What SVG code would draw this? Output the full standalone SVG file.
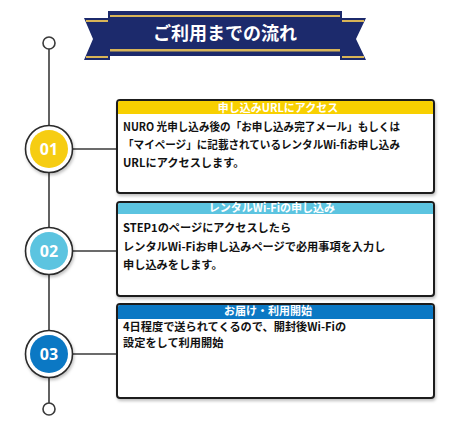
<svg xmlns="http://www.w3.org/2000/svg" width="450" height="430" viewBox="0 0 450 430">
<defs>
<style>
.line{stroke:#3a3a3a;stroke-width:1.6;fill:none}
.ring{fill:#fff;stroke:#2a2a2a;stroke-width:1.6}
.dot{fill:#fff;stroke:#3a3a3a;stroke-width:1.6}
.num{font-family:"Open Sans","Noto Sans",sans-serif;font-weight:700;font-size:16px;fill:#fff;text-anchor:middle}
.box{fill:#fff;stroke:#1e1e1e;stroke-width:2}
.hd{font-family:"Noto Sans CJK JP",sans-serif;font-weight:700;font-size:11px;fill:#fff;text-anchor:middle}
.bd{font-family:"Noto Sans CJK JP",sans-serif;font-weight:700;font-size:11.2px;fill:#111}
.title{font-family:"Noto Sans CJK JP",sans-serif;font-weight:700;font-size:18px;fill:#fff;text-anchor:middle}
.navy{fill:#1c2a6c}
.navyd{fill:#121c4e}
.gold{fill:#d8b457}
</style>
<filter id="sh" x="-30%" y="-30%" width="160%" height="160%">
<feDropShadow dx="1" dy="2" stdDeviation="1.5" flood-color="#000" flood-opacity="0.25"/>
</filter>
</defs>
<g id="banner">
<polygon class="navyd" points="108,54 98,60 108,60"/>
<polygon class="navyd" points="342,54 352,60 342,60"/>
<polygon class="navy" points="84,18 110,18 110,60 84,60 93,39"/>
<rect class="gold" x="86" y="20" width="22" height="2"/>
<rect class="gold" x="86" y="56" width="22" height="2"/>
<polygon class="navy" points="340,18 366,18 356,39 366,60 340,60"/>
<rect class="gold" x="342" y="20" width="22" height="2"/>
<rect class="gold" x="342" y="56" width="22" height="2"/>
<rect class="navy" x="108" y="11" width="234" height="45"/>
<rect class="gold" x="110" y="15" width="230" height="2"/>
<rect class="gold" x="110" y="49" width="230" height="2.5"/>
<text class="title" x="225" y="40">ご利用までの流れ</text>
</g>
<g id="connectors">
<line class="line" x1="49" y1="49" x2="49" y2="403"/>
<line class="line" x1="73" y1="149" x2="117" y2="149"/>
<line class="line" x1="73" y1="251" x2="117" y2="251"/>
<line class="line" x1="73" y1="354" x2="117" y2="354"/>
</g>
<g id="start">
<circle class="dot" cx="49" cy="43" r="6"/>
</g>
<g id="end">
<circle class="dot" cx="49" cy="409" r="6"/>
</g>
<g id="step1-marker">
<circle class="ring" cx="49" cy="149" r="23.5" filter="url(#sh)"/>
<circle cx="49" cy="149" r="19" fill="#f6cd12"/>
<text class="num" x="49" y="155">01</text>
</g>
<g id="step2-marker">
<circle class="ring" cx="49" cy="251" r="23.5" filter="url(#sh)"/>
<circle cx="49" cy="251" r="19" fill="#5cc4e0"/>
<text class="num" x="49" y="257">02</text>
</g>
<g id="step3-marker">
<circle class="ring" cx="49" cy="354" r="23.5" filter="url(#sh)"/>
<circle cx="49" cy="354" r="19" fill="#0b78c4"/>
<text class="num" x="49" y="360">03</text>
</g>
<g id="step1">
<rect class="box" x="117" y="100" width="317" height="93" rx="3" filter="url(#sh)"/>
<path d="M118,114 V103 a2,2 0 0 1 2,-2 H431 a2,2 0 0 1 2,2 V114 Z" fill="#f8d000"/>
<text class="hd" x="278" y="112">申し込みURLにアクセス</text>
<text class="bd" x="123" y="131" textLength="277" lengthAdjust="spacingAndGlyphs">NURO 光申し込み後の「お申し込み完了メール」もしくは</text>
<text class="bd" x="123" y="149" textLength="277" lengthAdjust="spacingAndGlyphs">「マイページ」に記載されているレンタルWi-fiお申し込み</text>
<text class="bd" x="123" y="167">URLにアクセスします。</text>
</g>
<g id="step2">
<rect class="box" x="117" y="202" width="317" height="94" rx="3" filter="url(#sh)"/>
<path d="M118,214 V205 a2,2 0 0 1 2,-2 H431 a2,2 0 0 1 2,2 V214 Z" fill="#5cc4e0"/>
<text class="hd" x="272" y="212">レンタルWi-Fiの申し込み</text>
<text class="bd" x="123" y="232">STEP1のページにアクセスしたら</text>
<text class="bd" x="123" y="251">レンタルWi-Fiお申し込みページで必用事項を入力し</text>
<text class="bd" x="123" y="269">申し込みをします。</text>
</g>
<g id="step3">
<rect class="box" x="117" y="304" width="317" height="94" rx="3" filter="url(#sh)"/>
<path d="M118,319 V307 a2,2 0 0 1 2,-2 H431 a2,2 0 0 1 2,2 V319 Z" fill="#0b78c4"/>
<text class="hd" x="268" y="315">お届け・利用開始</text>
<text class="bd" x="123" y="331">4日程度で送られてくるので、開封後Wi-Fiの</text>
<text class="bd" x="123" y="347">設定をして利用開始</text>
</g>
</svg>
